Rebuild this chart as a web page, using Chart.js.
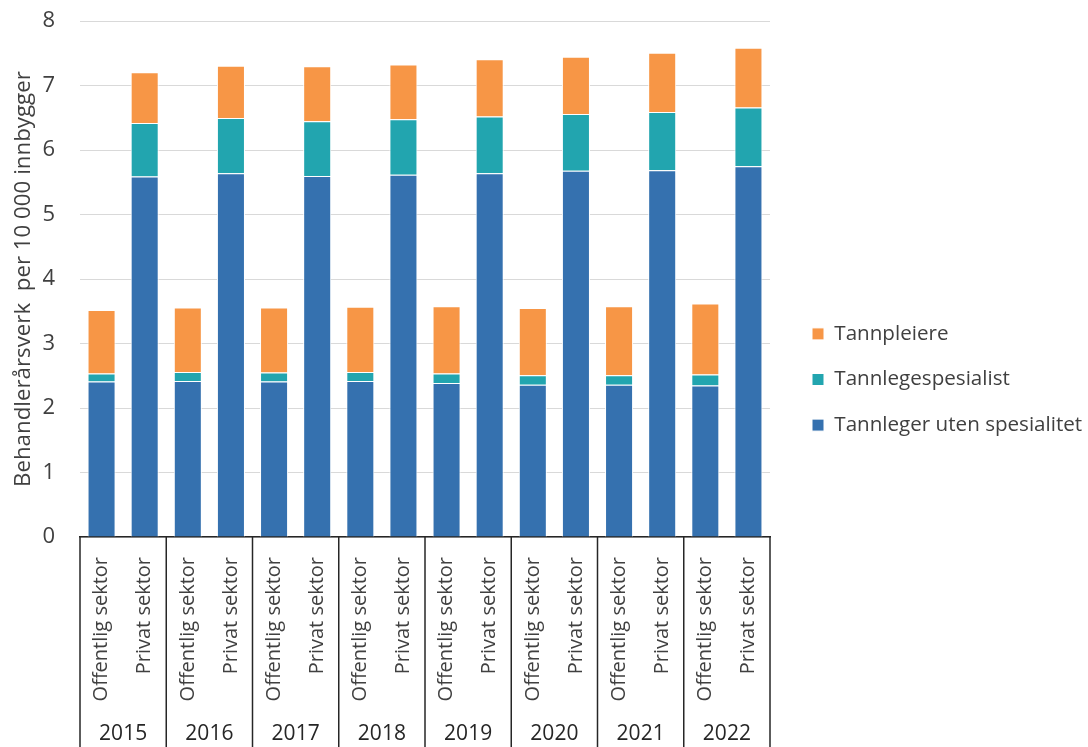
<!DOCTYPE html>
<html>
<head>
<meta charset="utf-8">
<script src="https://cdn.jsdelivr.net/npm/chart.js@4/dist/chart.umd.min.js"></script>
<style>
  html, body { margin: 0; padding: 0; background: #fff; }
  #wrap { width: 1088px; height: 747px; position: relative; }
</style>
</head>
<body>
<div id="wrap"><canvas id="chart"></canvas></div>
<script>
const years = ['2015', '2016', '2017', '2018', '2019', '2020', '2021', '2022'];
const sectors = ['Offentlig sektor', 'Privat sektor'];

// per bar, ordered year by year: offentlig, privat
const tannlegerUten = [2.41, 5.59, 2.42, 5.64, 2.41, 5.60, 2.42, 5.62, 2.39, 5.64, 2.36, 5.68, 2.36, 5.69, 2.35, 5.75];
const tannlegespesialist = [0.125, 0.83, 0.14, 0.86, 0.14, 0.85, 0.14, 0.86, 0.145, 0.88, 0.15, 0.88, 0.15, 0.90, 0.17, 0.91];
const tannpleiere = [0.985, 0.79, 1.00, 0.81, 1.01, 0.85, 1.01, 0.85, 1.045, 0.89, 1.04, 0.89, 1.07, 0.92, 1.10, 0.93];

const yTicks = [0, 1, 2, 3, 4, 5, 6, 7, 8];

const labels = years.flatMap(() => sectors);

const textColor = '#404040';
const fontFamily = '"Open Sans", "DejaVu Sans", sans-serif';

// year row and group separators under the x axis
const yearRows = {
    id: 'yearRows',
    afterDraw(chart) {
        const x = chart.scales.x;
        const ctx = chart.ctx;
        const bottom = chart.height;
        ctx.save();
        ctx.strokeStyle = '#262626';
        ctx.lineWidth = 1.5;
        ctx.fillStyle = '#262626';
        ctx.font = '21px ' + fontFamily;
        ctx.textAlign = 'center';
        ctx.textBaseline = 'middle';
        years.forEach((year, i) => {
            const left = i === 0 ? x.left : (x.getPixelForValue(2 * i - 1) + x.getPixelForValue(2 * i)) / 2;
            const right = i === years.length - 1 ? x.right : (x.getPixelForValue(2 * i + 1) + x.getPixelForValue(2 * i + 2)) / 2;
            ctx.beginPath();
            ctx.moveTo(left, x.top);
            ctx.lineTo(left, bottom);
            ctx.stroke();
            if (i === years.length - 1) {
                ctx.beginPath();
                ctx.moveTo(right, x.top);
                ctx.lineTo(right, bottom);
                ctx.stroke();
            }
            ctx.fillText(year, (left + right) / 2, bottom - 13);
        });
        ctx.restore();
    },
};

new Chart(document.getElementById('chart'), {
    type: 'bar',
    data: {
        labels,
        datasets: [
            {
                label: 'Tannleger uten spesialitet',
                data: tannlegerUten,
                backgroundColor: '#3571AF',
                borderColor: '#ffffff',
                borderWidth: 1,
            },
            {
                label: 'Tannlegespesialist',
                data: tannlegespesialist,
                backgroundColor: '#22A5AF',
                borderColor: '#ffffff',
                borderWidth: 1,
            },
            {
                label: 'Tannpleiere',
                data: tannpleiere,
                backgroundColor: '#F79646',
                borderColor: '#ffffff',
                borderWidth: 1,
            },
        ],
    },
    options: {
        responsive: true,
        maintainAspectRatio: false,
        animation: false,
        layout: { padding: { top: 12, right: 0, left: 10, bottom: 0 } },
        datasets: {
            bar: { categoryPercentage: 1, barPercentage: 0.65 },
        },
        plugins: {
            legend: {
                position: 'right',
                reverse: true,
                maxWidth: 301,
                labels: {
                    color: textColor,
                    font: { family: fontFamily, size: 20.6 },
                    boxWidth: 12,
                    boxHeight: 12,
                    padding: 25,
                },
            },
            tooltip: { enabled: false },
        },
        scales: {
            x: {
                stacked: true,
                grid: { display: false, drawTicks: false },
                border: { display: true, color: '#262626', width: 1.5 },
                ticks: {
                    color: textColor,
                    font: { family: fontFamily, size: 20 },
                    minRotation: 90,
                    maxRotation: 90,
                    autoSkip: false,
                    padding: 20,
                },
                afterFit(scale) {
                    scale.height = 210;
                },
            },
            y: {
                stacked: true,
                min: 0,
                max: 8,
                grid: { color: '#d9d9d9', drawTicks: true, tickLength: 17, tickColor: 'rgba(0,0,0,0)' },
                border: { display: false },
                afterBuildTicks(scale) {
                    scale.ticks = yTicks.map((v) => ({ value: v }));
                },
                ticks: {
                    color: textColor,
                    font: { family: fontFamily, size: 22 },
                    padding: 8,
                },
                title: {
                    display: true,
                    text: 'Behandlerårsverk  per 10 000 innbygger',
                    color: textColor,
                    font: { family: fontFamily, size: 22.3 },
                    padding: { top: 0, bottom: 0 },
                },
                afterFit(scale) {
                    scale.width = 70;
                },
            },
            // empty spacer between plot and legend
            gap: {
                position: 'right',
                grid: { display: false, drawTicks: false },
                border: { display: false },
                ticks: { display: false },
                afterFit(scale) {
                    scale.width = 17;
                },
            },
        },
    },
    plugins: [yearRows],
});
</script>
</body>
</html>
